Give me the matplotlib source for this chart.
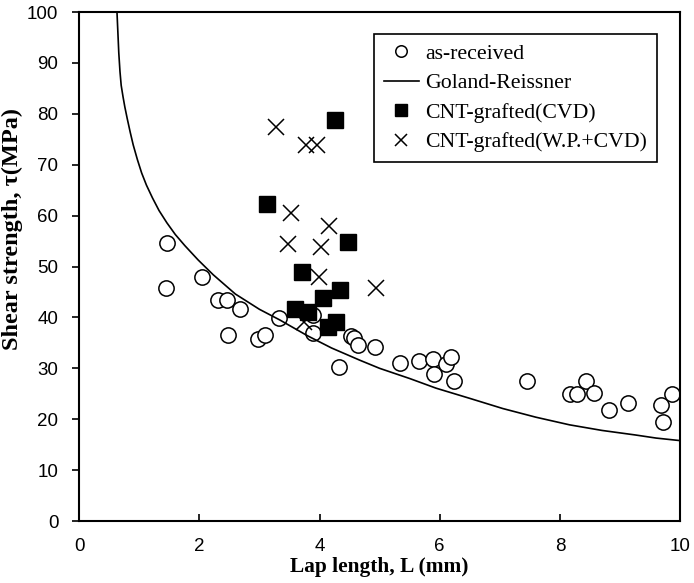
import numpy as np
import matplotlib
matplotlib.use("Agg")
import matplotlib.pyplot as plt

# as-received specimens (lap length mm, shear strength MPa)
recv_x = [1.45, 1.47, 2.04, 2.31, 2.46, 2.48, 2.67, 2.97, 3.10, 3.32, 3.89, 3.89,
          4.32, 4.53, 4.57, 4.64, 4.92, 5.34, 5.65, 5.89, 5.90, 6.11, 6.19, 6.23,
          7.45, 8.17, 8.28, 8.44, 8.57, 8.82, 9.14, 9.68, 9.72, 9.86]
recv_y = [45.8, 54.7, 47.9, 43.5, 43.5, 36.5, 41.6, 35.8, 36.5, 39.9, 40.5, 37.0,
          30.3, 36.3, 36.0, 34.6, 34.1, 31.1, 31.4, 31.8, 28.9, 30.8, 32.3, 27.5,
          27.5, 24.9, 24.9, 27.5, 25.2, 21.8, 23.2, 22.8, 19.4, 24.9]

# Goland-Reissner prediction
gr_x = [0.63, 0.645, 0.66, 0.68, 0.70, 0.73, 0.76, 0.80, 0.85, 0.90, 0.97, 1.04,
        1.12, 1.22, 1.33, 1.46, 1.60, 1.76, 1.98, 2.23, 2.60, 3.00, 3.34, 3.80,
        4.20, 4.67, 5.00, 5.50, 5.94, 6.50, 7.05, 7.60, 8.16, 8.70, 9.26, 9.60,
        10.0]
gr_y = [100, 96.0, 92.0, 88.3, 85.6, 83.4, 81.4, 79.1, 76.4, 73.9, 71.0, 68.4,
        66.0, 63.5, 61.0, 58.6, 56.3, 54.1, 51.3, 48.4, 44.6, 41.6, 39.5, 36.4,
        34.0, 31.6, 30.0, 28.0, 26.1, 24.1, 22.1, 20.4, 18.9, 17.8, 16.9, 16.3,
        15.8]

# CNT-grafted (CVD)
cvd_x = [4.25, 3.12, 4.47, 3.71, 4.34, 4.06, 3.60, 3.81, 4.14, 4.28]
cvd_y = [78.8, 62.3, 54.9, 49.0, 45.4, 43.8, 41.6, 41.1, 38.2, 39.2]

# CNT-grafted (W.P.+CVD)
wp_x = [3.28, 3.78, 3.95, 3.53, 4.16, 3.48, 4.03, 3.99, 4.94, 3.75]
wp_y = [77.5, 73.9, 73.9, 60.5, 58.0, 54.4, 53.8, 48.0, 45.7, 39.2]

serif = ['Liberation Serif', 'DejaVu Serif']
sans = ['Liberation Sans', 'DejaVu Sans']

fig = plt.figure(figsize=(6.94, 5.83), dpi=100)
ax = fig.add_axes([0.114, 0.1063, 0.866, 0.873])

ax.plot(recv_x, recv_y, 'o', mfc='white', mec='black', mew=1.1, ms=11,
        linestyle='none', label='as-received')
ax.plot(gr_x, gr_y, '-', color='black', lw=1.2, label='Goland-Reissner')
ax.plot(cvd_x, cvd_y, 's', color='black', ms=11, linestyle='none',
        label='CNT-grafted(CVD)')
ax.plot(wp_x, wp_y, 'x', color='black', mew=1.1, ms=11, linestyle='none',
        label='CNT-grafted(W.P.+CVD)')

ax.set_xlim(0, 10)
ax.set_ylim(0, 100)
ax.set_xticks(np.arange(0, 11, 2))
ax.set_yticks(np.arange(0, 101, 10))

for s in ax.spines.values():
    s.set_linewidth(1.5)
ax.tick_params(axis='x', direction='in', length=5, width=1.2, pad=12)
ax.tick_params(axis='y', direction='out', length=5, width=1.2, pad=10)
for lab in ax.get_xticklabels() + ax.get_yticklabels():
    lab.set_family(sans)
    lab.set_fontsize(13.5)

ax.set_xlabel('Lap length, L (mm)', family=serif, fontweight='bold',
              fontsize=15.4, labelpad=2)
ax.set_ylabel('Shear strength, τ(MPa)', family=serif, fontweight='bold',
              fontsize=17.5)
ax.yaxis.set_label_coords(-0.093, 0.574)

leg = ax.legend(loc='upper right', bbox_to_anchor=(0.962, 0.957),
                borderaxespad=0, fancybox=False, framealpha=1,
                prop={'family': serif, 'size': 15.7}, handlelength=1.6,
                handletextpad=0.32, borderpad=0.45, labelspacing=0.42,
                markerscale=0.75)
leg.get_frame().set_edgecolor('black')
leg.get_frame().set_linewidth(1.2)

fig.savefig('out.png', dpi=100)
